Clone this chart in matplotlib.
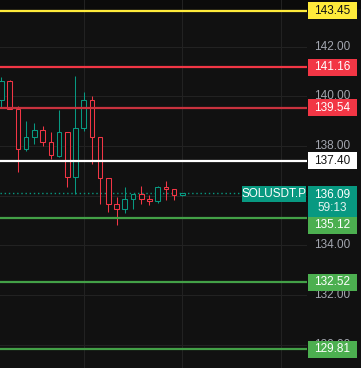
import matplotlib.pyplot as plt
from matplotlib.patches import Rectangle

# candle data (SOLUSDT.P)
opens = [139.85, 140.62, 139.47, 137.87, 138.35, 138.63, 138.17, 137.61, 138.55, 136.74, 138.71, 139.84,
         138.35, 136.70, 135.65, 135.45, 135.85, 136.05, 135.85, 135.77, 136.33, 136.25, 136.01]
highs = [140.79, 140.66, 139.61, 139.01, 138.92, 138.80, 138.56, 139.45, 138.56, 140.82, 140.17, 140.01,
         138.35, 136.70, 135.95, 136.35, 136.05, 136.39, 136.01, 136.39, 136.59, 136.28, 136.09]
lows = [139.58, 139.47, 136.96, 137.81, 138.08, 138.00, 137.49, 137.57, 136.36, 136.05, 138.62, 137.26,
        135.68, 135.35, 134.83, 135.31, 135.45, 135.65, 135.61, 135.69, 135.81, 135.81, 136.00]
closes = [140.62, 139.49, 137.87, 138.35, 138.63, 138.17, 137.63, 138.55, 136.74, 138.71, 139.84, 138.35,
          136.70, 135.65, 135.45, 135.85, 136.05, 135.85, 135.77, 136.33, 136.25, 136.01, 136.09]

# horizontal levels
level_prices = [143.45, 141.16, 139.54, 137.40, 135.12, 132.52, 129.81]
level_labels = ["143.45", "141.16", "139.54", "137.40", "135.12", "132.52", "129.81"]
level_line_colors = ["#ffeb3b", "#f23645", "#c8323e", "#ffffff", "#43a047", "#43a047", "#43a047"]
level_box_colors = ["#ffeb3b", "#f23645", "#f23645", "#ffffff", "#4caf50", "#4caf50", "#4caf50"]
level_text_colors = ["#131313", "#ffffff", "#ffffff", "#131313", "#ffffff", "#ffffff", "#ffffff"]

price_ticks = [130, 132, 134, 136, 138, 140, 142, 144]
time_grid = [10, 22, 34]
last_price = 136.09
symbol = "SOLUSDT.P"
countdown = "59:13"

BG = "#111111"
UP = "#089981"
DOWN = "#f23645"
W, H = 361, 368
PLOT_W = 307
y_top, y_bot = 143.877, 129.062
upp = (y_top - y_bot) / H  # price units per pixel
FONT = "Liberation Sans"

fig = plt.figure(figsize=(W / 100, H / 100), dpi=100, facecolor=BG)
ax = fig.add_axes([0, 0, PLOT_W / W, 1], facecolor=BG)
ax2 = fig.add_axes([PLOT_W / W, 0, (W - PLOT_W) / W, 1], facecolor=BG)
for a in (ax, ax2):
    for s in a.spines.values():
        s.set_visible(False)
    a.set_xticks([])
    a.set_yticks([])
    a.set_ylim(y_bot, y_top)
    # darker strip along the top
    a.axhspan(y_top - 9 * upp, y_top, color="#0b0b0b", lw=0, zorder=0.5)
ax.set_xlim(-0.182, 37.17)
ax2.set_xlim(0, W - PLOT_W)

# grid
for p in price_ticks:
    ax.axhline(p, color="#222222", lw=0.75, zorder=1)
for t in time_grid:
    ax.axvline(t, color="#222222", lw=0.75, zorder=1)

# candles (hollow)
for i, (o, h, l, c) in enumerate(zip(opens, highs, lows, closes)):
    col = UP if c >= o else DOWN
    lo, hi = min(o, c), max(o, c)
    ax.vlines(i, l, lo, color=col, lw=0.75, zorder=3)
    ax.vlines(i, hi, h, color=col, lw=0.75, zorder=3)
    ax.add_patch(Rectangle((i - 0.28, lo), 0.56, max(hi - lo, 0.02), facecolor=BG,
                           edgecolor=col, lw=0.75, zorder=4))

# last price dotted line
ax.axhline(last_price, color=UP, lw=1.0, ls=(0, (1, 2)), zorder=2)

# level lines
for p, lc in zip(level_prices, level_line_colors):
    ax.axhline(p, color=lc, lw=1.6, zorder=5)

# price scale tick labels
for p in price_ticks:
    ax2.text(25.5, p, f"{p:.2f}", color="#a3a6af", fontsize=8.5, family=FONT,
             ha="center", va="center", zorder=2, clip_on=True)

# level label boxes
box_h = 17 * upp
for p, lab, bc, tc in zip(level_prices, level_labels, level_box_colors, level_text_colors):
    cy = p
    if lab == "135.12":
        cy = p - 7.5 * upp  # pushed down below the last-price label
    ax2.add_patch(Rectangle((0.7, cy - box_h / 2), 49.6, box_h, facecolor=bc,
                            edgecolor="none", zorder=6, clip_on=False))
    ax2.text(25.5, cy, lab, color=tc, fontsize=8.5, family=FONT,
             ha="center", va="center", zorder=7)

# last price label + countdown
top = last_price + 7 * upp
ax2.add_patch(Rectangle((0.7, top - 30.5 * upp), 49.6, 30.5 * upp, facecolor=UP,
                        edgecolor="none", zorder=8, clip_on=False))
ax2.text(25.5, last_price - 1.5 * upp, f"{last_price:.2f}", color="white", fontsize=8.5,
         family=FONT, ha="center", va="center", zorder=9)
ax2.text(25.5, last_price - 14.5 * upp, countdown, color="#e6f4f1", fontsize=8.5,
         family=FONT, ha="center", va="center", zorder=9)

# symbol tag on the left of the price scale
ax2.add_patch(Rectangle((-64.7, top - 16 * upp), 63.7, 16 * upp, facecolor=UP,
                        edgecolor="none", zorder=8, clip_on=False))
ax2.text(-32.85, top - 8 * upp, symbol, color="white", fontsize=8.5,
         family=FONT, ha="center", va="center", zorder=9, clip_on=False)

fig.savefig("out.png", dpi=100, facecolor=BG)
